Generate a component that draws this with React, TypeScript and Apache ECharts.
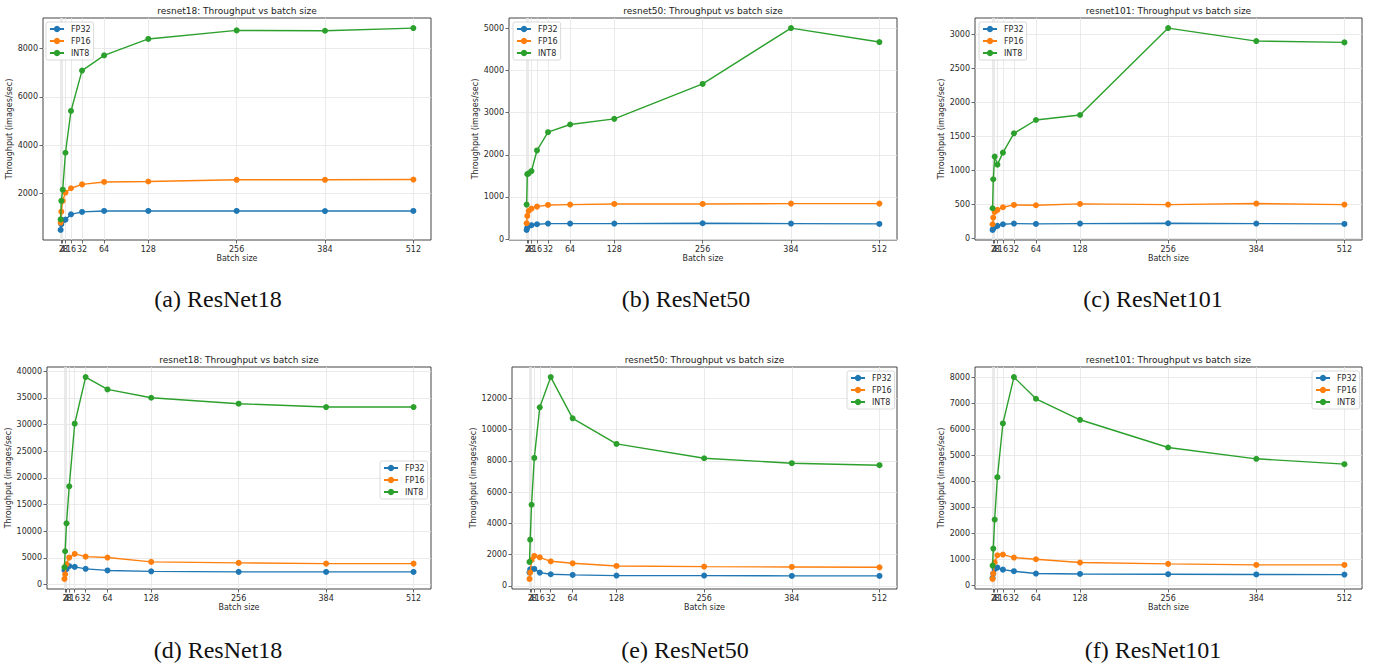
import React, { useEffect, useRef } from "react";
import * as echarts from "echarts";

// ---------------- data ----------------
const batchSizes = [1, 2, 4, 8, 16, 32, 64, 128, 256, 384, 512];
const precisions = ["FP32", "FP16", "INT8"];
const colors = ["#1f77b4", "#ff7f0e", "#2ca02c"];

// (a) resnet18, top row
const a_FP32 = [495, 730, 880, 920, 1140, 1240, 1280, 1280, 1280, 1275, 1280];
const a_FP16 = [800, 1250, 1700, 2040, 2220, 2380, 2480, 2500, 2570, 2570, 2580];
const a_INT8 = [930, 1700, 2160, 3690, 5420, 7090, 7720, 8400, 8755, 8740, 8850];
// (b) resnet50, top row
const b_FP32 = [220, 276, 315, 331, 354, 370, 370, 370, 378, 370, 362];
const b_FP16 = [378, 551, 669, 724, 772, 811, 819, 835, 835, 843, 843];
const b_INT8 = [819, 1540, 1560, 1614, 2102, 2535, 2717, 2850, 3677, 5000, 4669];
// (c) resnet101, top row
const c_FP32 = [122, 142, 166, 181, 205, 215, 210, 215, 220, 215, 210];
const c_FP16 = [205, 303, 386, 416, 455, 489, 484, 504, 494, 509, 494];
const c_INT8 = [440, 866, 1199, 1081, 1257, 1541, 1737, 1810, 3087, 2896, 2877];
// (d) resnet18, bottom row
const d_FP32 = [2700, 2950, 2900, 3450, 3310, 2950, 2650, 2480, 2380, 2370, 2370];
const d_FP16 = [1060, 1935, 3810, 5060, 5740, 5240, 5060, 4250, 4060, 3930, 3930];
const d_INT8 = [3245, 6242, 11486, 18415, 30150, 38890, 36580, 35020, 33900, 33270, 33270];
// (e) resnet50, bottom row
const e_FP32 = [850, 1064, 1064, 1085, 851, 745, 702, 660, 660, 638, 638];
const e_FP16 = [447, 851, 1660, 1915, 1830, 1574, 1447, 1277, 1234, 1213, 1191];
const e_INT8 = [1532, 2957, 5191, 8191, 11426, 13362, 10723, 9085, 8170, 7851, 7723];
// (f) resnet101, bottom row
const f_FP32 = [282, 450, 620, 680, 600, 540, 450, 435, 425, 415, 410];
const f_FP16 = [244, 449, 885, 1154, 1180, 1064, 1000, 872, 821, 782, 782];
const f_INT8 = [756, 1410, 2526, 4154, 6218, 8000, 7167, 6359, 5295, 4859, 4654];

// y tick labels
const yTicksA = [2000, 4000, 6000, 8000];
const yTicksB = [0, 1000, 2000, 3000, 4000, 5000];
const yTicksC = [0, 500, 1000, 1500, 2000, 2500, 3000];
const yTicksD = [0, 5000, 10000, 15000, 20000, 25000, 30000, 35000, 40000];
const yTicksE = [0, 2000, 4000, 6000, 8000, 10000, 12000];
const yTicksF = [0, 1000, 2000, 3000, 4000, 5000, 6000, 7000, 8000];

const titles = [
  "resnet18: Throughput vs batch size",
  "resnet50: Throughput vs batch size",
  "resnet101: Throughput vs batch size",
  "resnet18: Throughput vs batch size",
  "resnet50: Throughput vs batch size",
  "resnet101: Throughput vs batch size",
];
const captions = ["(a) ResNet18", "(b) ResNet50", "(c) ResNet101", "(d) ResNet18", "(e) ResNet50", "(f) ResNet101"];
const panelSeries = [
  [a_FP32, a_FP16, a_INT8],
  [b_FP32, b_FP16, b_INT8],
  [c_FP32, c_FP16, c_INT8],
  [d_FP32, d_FP16, d_INT8],
  [e_FP32, e_FP16, e_INT8],
  [f_FP32, f_FP16, f_INT8],
];
const panelYTicks = [yTicksA, yTicksB, yTicksC, yTicksD, yTicksE, yTicksF];
const xLabel = "Batch size";
const yLabel = "Throughput (images/sec)";

// ---------------- layout ----------------
const gridBoxes = [
  [43, 18, 388, 222],
  [509, 18, 388, 222],
  [975, 18, 387, 222],
  [47, 367, 384, 222],
  [512, 367, 385, 222],
  [975, 367, 387, 222],
];
const legendPos = [
  [46, 22],
  [513, 22],
  [979, 22],
  [380, 461],
  [847, 371],
  [1312, 371],
];
const yNameGaps = [28, 28, 28, 31, 30, 28];
const captionPos = [
  [218, 299],
  [686, 299],
  [1153, 299],
  [218, 650],
  [685, 650],
  [1153, 650],
];

const sansFont = "'DejaVu Sans', sans-serif";
const serifFont = "'Liberation Serif', 'DejaVu Serif', serif";
const textColor = "#2a2a2a";
const gridLineColor = "#e4e4e4";

function buildOption() {
  const grid: any[] = [];
  const xAxis: any[] = [];
  const yAxis: any[] = [];
  const series: any[] = [];
  const legend: any[] = [];
  const graphic: any[] = [];

  gridBoxes.forEach((b, i) => {
    const [left, top, width, height] = b;
    grid.push({
      left,
      top,
      width,
      height,
      show: true,
      borderColor: "#444",
      borderWidth: 1,
      backgroundColor: "transparent",
      containLabel: false,
      outerBoundsMode: "none",
    });
    xAxis.push({
      type: "value",
      gridIndex: i,
      min: (e: any) => e.min - 0.05 * (e.max - e.min),
      max: (e: any) => e.max + 0.05 * (e.max - e.min),
      name: xLabel,
      nameLocation: "middle",
      nameGap: 14,
      nameTextStyle: { fontSize: 8, color: textColor, fontFamily: sansFont },
      axisLine: { show: false, onZero: false },
      axisTick: { show: true, inside: false, length: 3.5, customValues: batchSizes, lineStyle: { color: "#444", width: 0.8 } },
      axisLabel: {
        show: true,
        customValues: batchSizes,
        fontSize: 8,
        color: textColor,
        fontFamily: sansFont,
        margin: 5,
        hideOverlap: false,
        formatter: (v: number) => String(v),
      },
      splitLine: { show: true, lineStyle: { color: gridLineColor, width: 0.8 } },
    });
    yAxis.push({
      type: "value",
      gridIndex: i,
      min: (e: any) => e.min - 0.05 * (e.max - e.min),
      max: (e: any) => e.max + 0.05 * (e.max - e.min),
      name: yLabel,
      nameLocation: "middle",
      nameGap: yNameGaps[i],
      nameRotate: 90,
      nameTextStyle: { fontSize: 8, color: textColor, fontFamily: sansFont },
      axisLine: { show: false, onZero: false },
      axisTick: { show: true, inside: false, length: 3.5, customValues: panelYTicks[i], lineStyle: { color: "#444", width: 0.8 } },
      axisLabel: {
        show: true,
        customValues: panelYTicks[i],
        fontSize: 8,
        color: textColor,
        fontFamily: sansFont,
        margin: 5,
        formatter: (v: number) => String(v),
      },
      splitLine: { show: true, lineStyle: { color: gridLineColor, width: 0.8 } },
    });
    panelSeries[i].forEach((vals, k) => {
      series.push({
        type: "line",
        name: precisions[k],
        xAxisIndex: i,
        yAxisIndex: i,
        data: batchSizes.map((bs, j) => [bs, vals[j]]),
        symbol: "circle",
        symbolSize: 6,
        showSymbol: true,
        color: colors[k],
        itemStyle: { color: colors[k] },
        lineStyle: { color: colors[k], width: 1.4 },
        emphasis: { disabled: true },
        silent: true,
        z: 2 + k,
      });
    });
    legend.push({
      orient: "vertical",
      left: legendPos[i][0],
      top: legendPos[i][1],
      data: precisions,
      itemWidth: 14,
      itemHeight: 8,
      itemGap: 4,
      padding: [3, 3, 3, 3],
      backgroundColor: "rgba(255,255,255,0.85)",
      borderColor: "#d0d0d0",
      borderWidth: 0.8,
      borderRadius: 2,
      selectedMode: false,
      textStyle: { fontSize: 8, color: textColor, fontFamily: sansFont, padding: [0, 0, 0, 2] },
    });
    graphic.push({
      type: "text",
      x: left + width / 2,
      y: top - 7,
      style: {
        text: titles[i],
        fontSize: 9,
        fontFamily: sansFont,
        fill: "#222",
        align: "center",
        verticalAlign: "middle",
        textAlign: "center",
        textVerticalAlign: "middle",
      },
    });
    graphic.push({
      type: "text",
      x: captionPos[i][0],
      y: captionPos[i][1],
      style: {
        text: captions[i],
        fontSize: 24,
        fontFamily: serifFont,
        fill: "#111",
        align: "center",
        verticalAlign: "middle",
        textAlign: "center",
        textVerticalAlign: "middle",
      },
    });
  });

  return {
    animation: false,
    backgroundColor: "#ffffff",
    grid,
    xAxis,
    yAxis,
    series,
    legend,
    graphic,
  };
}

export default function App() {
  const ref = useRef<HTMLDivElement>(null);
  useEffect(() => {
    document.body.style.margin = "0";
    if (!ref.current) return;
    const chart = echarts.init(ref.current, null, { renderer: "svg" });
    chart.setOption(buildOption() as any);
    return () => {
      chart.dispose();
    };
  }, []);
  return <div ref={ref} style={{ width: 1374, height: 667 }} />;
}
